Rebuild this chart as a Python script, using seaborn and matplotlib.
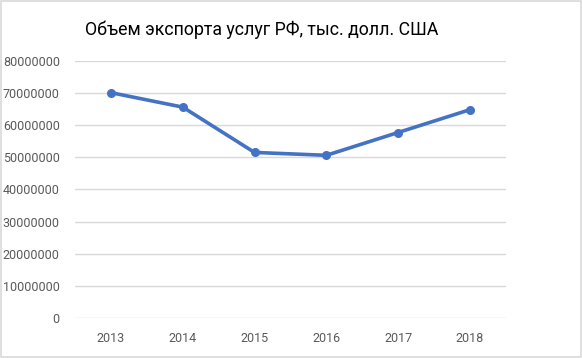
import pandas as pd
import numpy as np
import matplotlib
matplotlib.use('Agg')
import matplotlib.pyplot as plt
import seaborn as sns
from matplotlib.ticker import MultipleLocator, FuncFormatter

sns.set_style('white')
plt.rcParams['font.family'] = ['Roboto', 'DejaVu Sans']

years = ['2013', '2014', '2015', '2016', '2017', '2018']
export_values = [70100000, 65600000, 51500000, 50600000, 57700000, 64800000]

df = pd.DataFrame({'year': years, 'value': export_values})

fig = plt.figure(figsize=(5.82, 3.58), dpi=100)
ax = fig.add_axes([0.129, 0.112, 0.740, 0.718])

sns.lineplot(data=df, x='year', y='value', ax=ax, color='#4472C4',
             linewidth=2.6, marker='o', markersize=6.5, markeredgewidth=0,
             sort=False)

ax.set_ylim(0, 80000000)
ax.set_xlim(-0.5, 5.5)
ax.yaxis.set_major_locator(MultipleLocator(10000000))
ax.yaxis.set_major_formatter(FuncFormatter(lambda v, p: f'{int(v)}'))
ax.grid(axis='y', color='#D9D9D9', linewidth=1.0)
ax.grid(axis='x', visible=False)
for s in ax.spines.values():
    s.set_visible(False)
ax.set_axisbelow(True)
ax.set_xlabel('')
ax.set_ylabel('')
ax.tick_params(axis='both', length=0, labelsize=9, labelcolor='#595959')
ax.tick_params(axis='y', pad=11)
ax.tick_params(axis='x', pad=10)

fig.text(0.449, 0.916, 'Объем экспорта услуг РФ, тыс. долл. США', ha='center',
         va='center', fontsize=12.8, color='#000000')

# light grey frame around the whole chart
fig.patches.append(plt.Rectangle((0.002, 0.003), 0.996, 0.994, transform=fig.transFigure,
                                 fill=False, edgecolor='#D9D9D9', linewidth=1.2))

plt.savefig('out.png', dpi=100)
